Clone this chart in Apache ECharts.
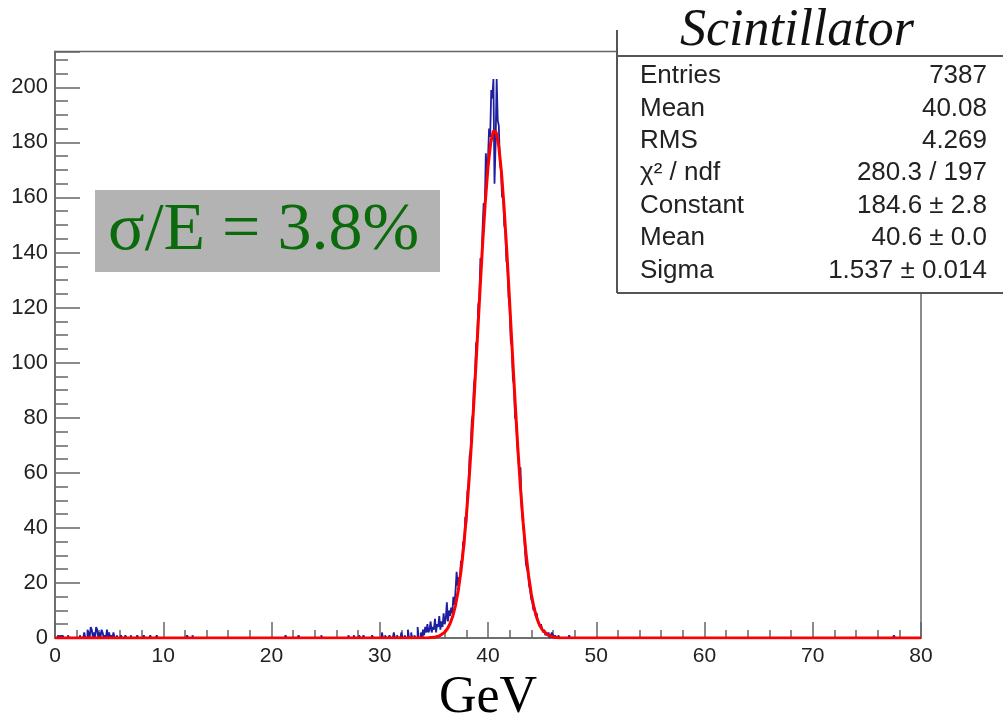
<!DOCTYPE html>
<html><head><meta charset="utf-8">
<script src="https://cdn.jsdelivr.net/npm/echarts@6/dist/echarts.min.js"></script>
<style>html,body{margin:0;padding:0;background:#fff}#c{width:1003px;height:720px}</style>
</head><body><div id="c"></div>
<script>
// ---- data ----
const binWidth = 0.1;           // GeV per bin
const nBins = 800;              // 0..80 GeV
const peakStart = 34.0;         // first bin edge of the peak block
const peakCounts = [
  3,1,4,2,5,2,3,6,2,4,
  3,7,2,5,4,8,3,6,4,9,
  5,7,13,6,10,8,11,9,15,12,
  17,24,19,22,21,28,26,35,33,44,
  42,53,56,66,68,79,81,92,95,107,
  108,121,123,138,135,149,158,156,176,168,
  174,185,182,199,196,203,165,179,203,188,
  186,172,170,160,161,150,148,137,135,124,
  120,108,106,94,92,80,79,70,65,60,
  62,48,43,39,33,27,25,24,19,17,
  14,13,10,11,8,9,6,5,4,5,
  3,2,3,1,2,1,2,0,1,2,
  1,0,1,0,0,1,0,0,0,0
];
const bgEdges = [0.3,0.5,0.7,1.2,2.3,2.7,3.0,3.1,3.3,3.4,3.6,3.8,3.9,4.1,4.3,4.4,4.6,4.8,5.0,5.2,5.4,5.7,6.1,6.5,7.0,7.6,8.2,8.8,9.4,12.2,12.7,21.3,22.5,24.6,27.1,27.6,28.1,28.5,29.3,30.2,30.5,30.9,31.3,31.6,32.0,32.3,32.6,32.9,33.2,33.5,33.8,47.5,77.5];
const bgCounts = [1,1,1,1,1,2,3,2,4,3,2,4,3,2,3,2,1,3,2,1,2,1,1,1,1,1,1,1,1,1,1,1,1,1,1,1,1,1,1,2,1,1,2,1,2,1,3,2,1,4,2,1,1];
const fitX = [0,34.5,35,35.5,36,36.25,36.5,36.75,37,37.25,37.5,37.75,38,38.25,38.5,38.75,39,39.25,39.5,39.75,40,40.25,40.5,40.6,40.75,41,41.25,41.5,41.75,42,42.25,42.5,42.75,43,43.25,43.5,43.75,44,44.25,44.5,44.75,45,45.5,46,46.5,80];
const fitY = [0,0.07,0.24,0.75,2.09,3.36,5.26,8.02,11.88,17.15,24.14,33.08,44.14,57.36,72.6,89.46,107.4,125.5,142.9,158.4,171.0,179.9,184.2,184.6,183.7,178.5,168.8,155.5,139.5,121.9,103.7,86.0,69.4,54.5,41.8,31.1,22.6,16.0,11.0,7.38,4.82,3.07,1.15,0.39,0.12,0];
const titleText = 'Scintillator';
const statsLabels = ['Entries','Mean','RMS','\u03c7\u00b2 / ndf','Constant','Mean','Sigma'];
const statsValues = ['7387','40.08','4.269','280.3 / 197','184.6 \u00b1 2.8','40.6 \u00b1 0.0','1.537 \u00b1 0.014'];
const resolutionText = '\u03c3/E = 3.8%';
const xTitle = 'GeV';

// ---- build histogram ----
const counts = new Array(nBins).fill(0);
peakCounts.forEach((v, i) => { counts[Math.round(peakStart / binWidth) + i] = v; });
bgEdges.forEach((e, i) => { counts[Math.round(e / binWidth)] = bgCounts[i]; });
const histData = counts.map((v, i) => [+(i * binWidth).toFixed(2), v]);
histData.push([nBins * binWidth, counts[nBins - 1]]);
const fitData = fitX.map((x, i) => [x, fitY[i]]);

const axisCol = '#666';
const chart = echarts.init(document.getElementById('c'), null, {renderer: 'canvas'});

// stats box graphics
const statsG = [];
statsG.push({type: 'rect', shape: {x: 617, y: 0, width: 400, height: 293}, style: {fill: '#fff'}, z: 100});
statsG.push({type: 'line', shape: {x1: 617, y1: 30, x2: 617, y2: 293}, style: {stroke: '#555', lineWidth: 2}, z: 101});
statsG.push({type: 'line', shape: {x1: 617, y1: 56, x2: 1003, y2: 56}, style: {stroke: '#555', lineWidth: 2}, z: 101});
statsG.push({type: 'line', shape: {x1: 617, y1: 293, x2: 1003, y2: 293}, style: {stroke: '#555', lineWidth: 2}, z: 101});
statsG.push({type: 'text', x: 680, y: 31, style: {text: titleText, fill: '#111', font: 'italic 52px "Liberation Serif"', align: 'left', verticalAlign: 'middle'}, z: 102});
const rowY0 = 76, rowDY = 32.4;
statsLabels.forEach((t, i) => {
  statsG.push({type: 'text', x: 640, y: rowY0 + i * rowDY, style: {text: t, fill: '#222', font: '26px "Liberation Sans"', align: 'left', verticalAlign: 'middle'}, z: 102});
  statsG.push({type: 'text', x: 987, y: rowY0 + i * rowDY, style: {text: statsValues[i], fill: '#222', font: '26px "Liberation Sans"', align: 'right', verticalAlign: 'middle'}, z: 102});
});

chart.setOption({
  animation: false,
  backgroundColor: '#fff',
  grid: {left: 55, right: 82, top: 51.5, bottom: 82, show: true, borderColor: axisCol, borderWidth: 1.5, backgroundColor: 'transparent', outerBoundsMode: 'none'},
  xAxis: {
    type: 'value', min: 0, max: 80, interval: 10,
    name: xTitle, nameLocation: 'middle', nameGap: 33,
    nameTextStyle: {fontFamily: 'Liberation Serif', fontSize: 52, color: '#000'},
    axisLine: {show: true, onZero: false, lineStyle: {color: axisCol, width: 1.5}},
    axisTick: {show: true, inside: true, length: 16, lineStyle: {color: axisCol, width: 1.5}},
    minorTick: {show: true, splitNumber: 5, length: 8, lineStyle: {color: axisCol, width: 1.5}},
    axisLabel: {fontFamily: 'Liberation Sans', fontSize: 21, color: '#222', margin: 8},
    splitLine: {show: false}, minorSplitLine: {show: false}
  },
  yAxis: [{
    type: 'value', min: 0, max: 213, interval: 20,
    axisLine: {show: true, onZero: false, lineStyle: {color: axisCol, width: 1.5}},
    axisTick: {show: true, inside: true, length: 25, lineStyle: {color: axisCol, width: 1.5}},
    axisLabel: {fontFamily: 'Liberation Sans', fontSize: 22, color: '#222', margin: 7,
      formatter: v => (v % 20 === 0 ? String(v) : '')},
    splitLine: {show: false}
  }, {
    type: 'value', min: 0, max: 213, interval: 5, position: 'left',
    axisLine: {show: false},
    axisTick: {show: true, inside: true, length: 13, lineStyle: {color: axisCol, width: 1.5}},
    axisLabel: {show: false},
    splitLine: {show: false}
  }],
  series: [{
    type: 'line', name: 'hist', data: histData, step: 'end', showSymbol: false, symbol: 'none',
    lineStyle: {color: '#1e1ea0', width: 1.8}, z: 2, silent: true
  }, {
    type: 'line', name: 'fit', data: fitData, showSymbol: false, symbol: 'none', smooth: false,
    lineStyle: {color: '#ff0000', width: 3}, z: 3, silent: true
  }],
  graphic: [
    {type: 'rect', shape: {x: 95, y: 190, width: 345, height: 82}, style: {fill: '#b3b3b3'}, z: 50},
    {type: 'text', x: 108, y: 231, style: {text: resolutionText, fill: '#0b6a0b', font: '68px "Liberation Serif"', align: 'left', verticalAlign: 'middle'}, z: 51}
  ].concat(statsG)
});
</script></body></html>
